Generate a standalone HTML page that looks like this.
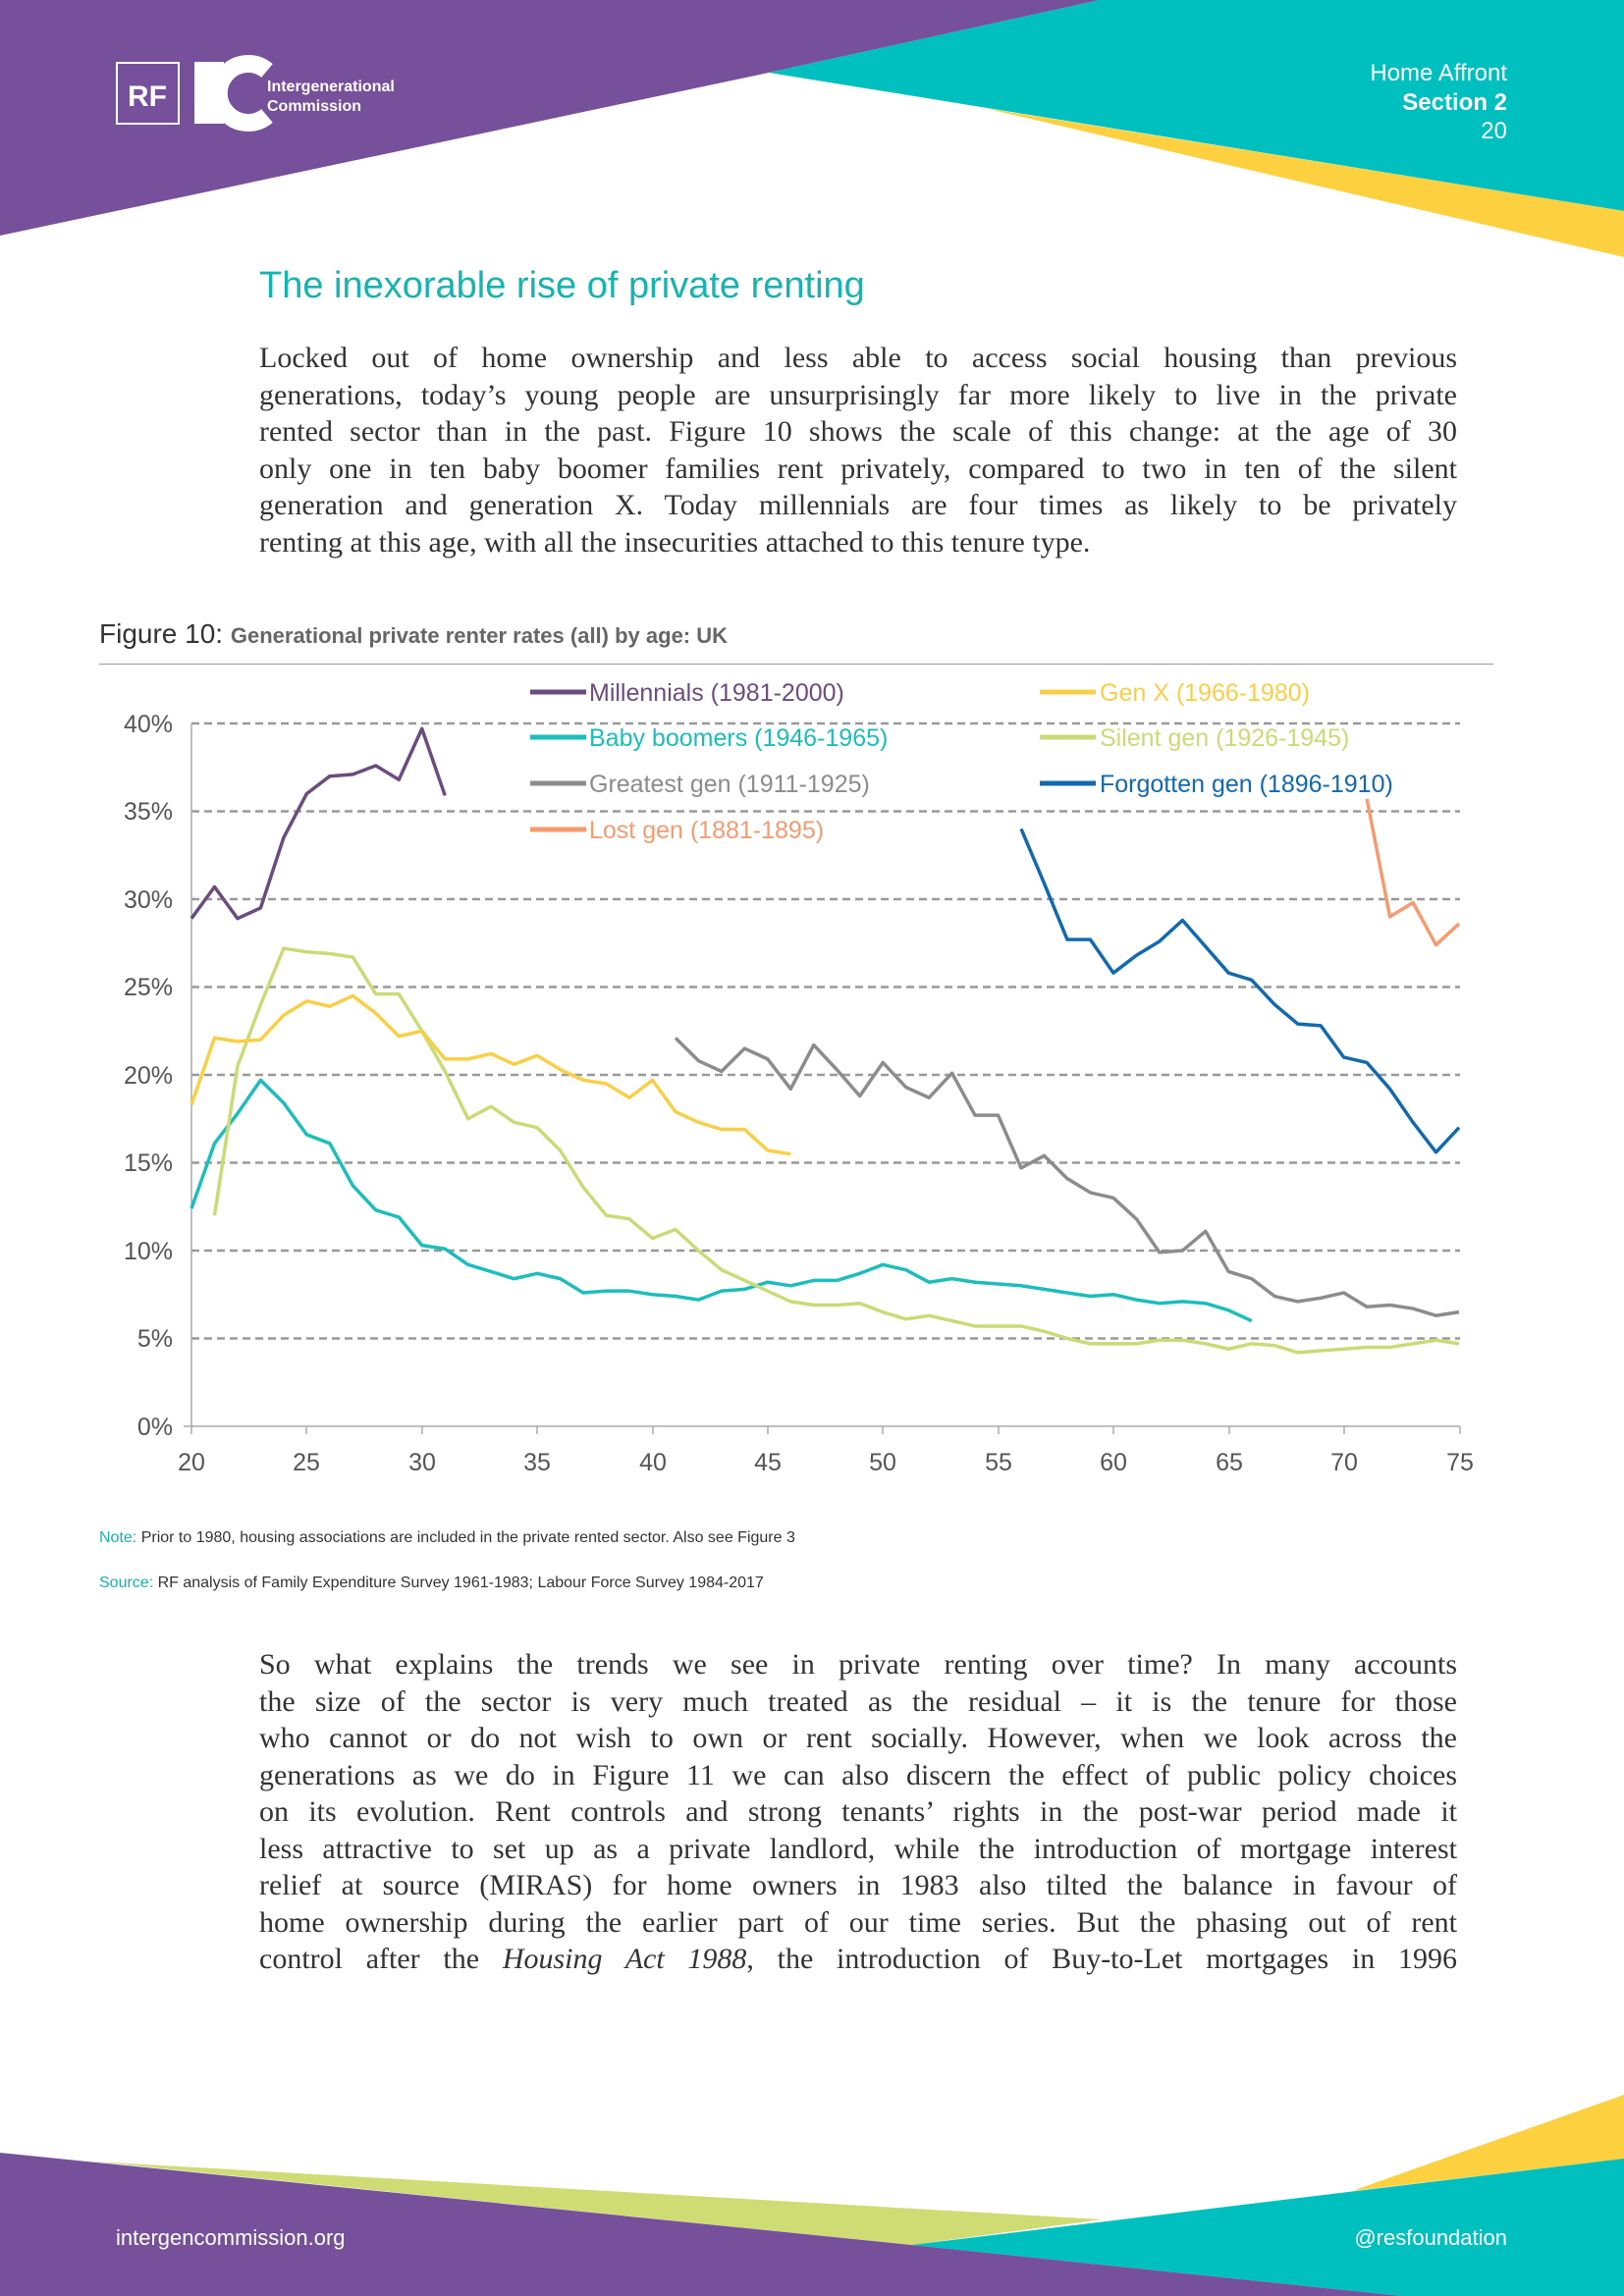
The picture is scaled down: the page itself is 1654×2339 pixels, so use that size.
<!DOCTYPE html>
<html><head><meta charset="utf-8"><style>
body{margin:0;width:1654px;height:2339px;position:relative;background:#fff;overflow:hidden;font-family:"Liberation Sans",sans-serif}
.abs{position:absolute}
.p{position:absolute;left:264px;width:1220px;font-family:"Liberation Serif",serif;font-size:30px;color:#333}
.p div{height:37.5px;line-height:37.5px;text-align:justify;text-align-last:justify;white-space:nowrap}
.p div.l{text-align-last:left}
</style></head><body>
<svg class="abs" style="left:0;top:0" width="1654" height="2339">
<polygon points="0,0 1120,0 783,74 0,240" fill="#77509b"/>
<polygon points="1120,0 1654,0 1654,215 783,74" fill="#00bfbf"/>
<polygon points="1002,110 1654,215 1654,262" fill="#fcd03f"/>
<polygon points="95,2202 1123,2261 928,2287" fill="#cfdc74"/>
<polygon points="1377,2232 1654,2134 1654,2199" fill="#fcd03f"/>
<polygon points="928,2287 1654,2199 1654,2339 1427,2339" fill="#00bfbf"/>
<polygon points="0,2193 928,2287 1427,2339 0,2339" fill="#77509b"/>
<rect x="119" y="64" width="63" height="62" fill="none" stroke="#fff" stroke-width="2"/>
<text x="150" y="108" fill="#fff" font-size="30" font-weight="bold" text-anchor="middle" font-family="Liberation Sans">RF</text>
<rect x="198" y="63" width="30" height="63" fill="#fff"/>
<path d="M272,72 A30,30 0 1 0 272,118" fill="none" stroke="#fff" stroke-width="18"/>
<text x="272" y="93" fill="#fff" font-size="16" font-weight="bold">Intergenerational</text>
<text x="272" y="113" fill="#fff" font-size="16" font-weight="bold">Commission</text>
<text x="1535" y="82" fill="#fff" font-size="24" text-anchor="end">Home Affront</text>
<text x="1535" y="112" fill="#fff" font-size="24" font-weight="bold" text-anchor="end">Section 2</text>
<text x="1535" y="141" fill="#fff" font-size="24" text-anchor="end">20</text>
<text x="118" y="2287" fill="#fff" font-size="22">intergencommission.org</text>
<text x="1535" y="2287" fill="#fff" font-size="22" text-anchor="end">@resfoundation</text>
</svg>
<div class="abs" style="left:264px;top:270px;font-size:38px;color:#17b3b0">The inexorable rise of private renting</div>
<div class="p" style="top:346px">
<div>Locked out of home ownership and less able to access social housing than previous</div>
<div>generations, today’s young people are unsurprisingly far more likely to live in the private</div>
<div>rented sector than in the past. Figure 10 shows the scale of this change: at the age of 30</div>
<div>only one in ten baby boomer families rent privately, compared to two in ten of the silent</div>
<div>generation and generation X. Today millennials are four times as likely to be privately</div>
<div class="l">renting at this age, with all the insecurities attached to this tenure type.</div>
</div>
<div class="abs" style="left:101px;top:630px;font-size:28px;color:#333">Figure 10: <span style="font-size:22px;font-weight:bold;color:#666">Generational private renter rates (all) by age: UK</span></div>
<div class="abs" style="left:101px;top:676px;width:1420px;height:1px;background:#999"></div>
<svg class="abs" style="left:0;top:0" width="1654" height="1600">
<g stroke="#999" stroke-width="2.5" stroke-dasharray="8,5">
<line x1="195" x2="1487" y1="737" y2="737"/><line x1="195" x2="1487" y1="826.5" y2="826.5"/><line x1="195" x2="1487" y1="916" y2="916"/><line x1="195" x2="1487" y1="1005.5" y2="1005.5"/><line x1="195" x2="1487" y1="1095" y2="1095"/><line x1="195" x2="1487" y1="1184.5" y2="1184.5"/><line x1="195" x2="1487" y1="1274" y2="1274"/><line x1="195" x2="1487" y1="1363.5" y2="1363.5"/>
</g>
<g stroke="#aaa" stroke-width="1.5"><line x1="195" x2="195" y1="737" y2="1453"/><line x1="187" x2="1487" y1="1453" y2="1453"/>
<line x1="195" x2="195" y1="1453" y2="1461"/><line x1="312" x2="312" y1="1453" y2="1461"/><line x1="430" x2="430" y1="1453" y2="1461"/><line x1="547" x2="547" y1="1453" y2="1461"/><line x1="665" x2="665" y1="1453" y2="1461"/><line x1="782" x2="782" y1="1453" y2="1461"/><line x1="899" x2="899" y1="1453" y2="1461"/><line x1="1017" x2="1017" y1="1453" y2="1461"/><line x1="1134" x2="1134" y1="1453" y2="1461"/><line x1="1252" x2="1252" y1="1453" y2="1461"/><line x1="1369" x2="1369" y1="1453" y2="1461"/><line x1="1487" x2="1487" y1="1453" y2="1461"/></g>
<g font-size="25" fill="#555" text-anchor="end">
<text x="176" y="746">40%</text><text x="176" y="835">35%</text><text x="176" y="925">30%</text><text x="176" y="1014">25%</text><text x="176" y="1104">20%</text><text x="176" y="1193">15%</text><text x="176" y="1283">10%</text><text x="176" y="1372">5%</text><text x="176" y="1462">0%</text></g>
<g font-size="25" fill="#555" text-anchor="middle">
<text x="195" y="1498">20</text><text x="312" y="1498">25</text><text x="430" y="1498">30</text><text x="547" y="1498">35</text><text x="665" y="1498">40</text><text x="782" y="1498">45</text><text x="899" y="1498">50</text><text x="1017" y="1498">55</text><text x="1134" y="1498">60</text><text x="1252" y="1498">65</text><text x="1369" y="1498">70</text><text x="1487" y="1498">75</text></g>
<g transform="translate(195,1453) scale(23.473,-17.9)" fill="none" stroke-width="3.5" stroke-linejoin="round">
<polyline vector-effect="non-scaling-stroke" stroke="#1cbdbd" points="0,12.4 1,16.1 2,17.8 3,19.7 4,18.4 5,16.6 6,16.1 7,13.7 8,12.3 9,11.9 10,10.3 11,10.1 12,9.2 13,8.8 14,8.4 15,8.7 16,8.4 17,7.6 18,7.7 19,7.7 20,7.5 21,7.4 22,7.2 23,7.7 24,7.8 25,8.2 26,8.0 27,8.3 28,8.3 29,8.7 30,9.2 31,8.9 32,8.2 33,8.4 34,8.2 35,8.1 36,8.0 37,7.8 38,7.6 39,7.4 40,7.5 41,7.2 42,7.0 43,7.1 44,7.0 45,6.6 46,6.0"/>
<polyline vector-effect="non-scaling-stroke" stroke="#c8dc76" points="1,12.0 2,20.5 3,24.0 4,27.2 5,27.0 6,26.9 7,26.7 8,24.6 9,24.6 10,22.5 11,20.2 12,17.5 13,18.2 14,17.3 15,17.0 16,15.7 17,13.6 18,12.0 19,11.8 20,10.7 21,11.2 22,10.0 23,8.9 24,8.3 25,7.7 26,7.1 27,6.9 28,6.9 29,7.0 30,6.5 31,6.1 32,6.3 33,6.0 34,5.7 35,5.7 36,5.7 37,5.4 38,5.0 39,4.7 40,4.7 41,4.7 42,4.9 43,4.9 44,4.7 45,4.4 46,4.7 47,4.6 48,4.2 49,4.3 50,4.4 51,4.5 52,4.5 53,4.7 54,4.9 55,4.7"/>
<polyline vector-effect="non-scaling-stroke" stroke="#f9cf46" points="0,18.3 1,22.1 2,21.9 3,22 4,23.4 5,24.2 6,23.9 7,24.5 8,23.5 9,22.2 10,22.5 11,20.9 12,20.9 13,21.2 14,20.6 15,21.1 16,20.3 17,19.7 18,19.5 19,18.7 20,19.7 21,17.9 22,17.3 23,16.9 24,16.9 25,15.7 26,15.5"/>
<polyline vector-effect="non-scaling-stroke" stroke="#6b4c80" points="0,28.9 1,30.7 2,28.9 3,29.5 4,33.5 5,36 6,37 7,37.1 8,37.6 9,36.8 10,39.7 11,35.9"/>
<polyline vector-effect="non-scaling-stroke" stroke="#8c8c8c" points="21,22.1 22,20.8 23,20.2 24,21.5 25,20.9 26,19.2 27,21.7 28,20.3 29,18.8 30,20.7 31,19.3 32,18.7 33,20.1 34,17.7 35,17.7 36,14.7 37,15.4 38,14.1 39,13.3 40,13.0 41,11.8 42,9.9 43,10.0 44,11.1 45,8.8 46,8.4 47,7.4 48,7.1 49,7.3 50,7.6 51,6.8 52,6.9 53,6.7 54,6.3 55,6.5"/>
<polyline vector-effect="non-scaling-stroke" stroke="#1169b0" points="36,34.0 37,30.9 38,27.7 39,27.7 40,25.8 41,26.8 42,27.6 43,28.8 44,27.3 45,25.8 46,25.4 47,24.0 48,22.9 49,22.8 50,21.0 51,20.7 52,19.2 53,17.3 54,15.6 55,17.0"/>
<polyline vector-effect="non-scaling-stroke" stroke="#f59b6f" points="51,35.7 52,29.0 53,29.8 54,27.4 55,28.6"/>
</g>
<g stroke-width="5">
<line x1="540" x2="597" y1="705" y2="705" stroke="#6b4c80"/><line x1="540" x2="597" y1="751" y2="751" stroke="#1cbdbd"/><line x1="540" x2="597" y1="798" y2="798" stroke="#8c8c8c"/><line x1="540" x2="597" y1="845" y2="845" stroke="#f59b6f"/>
<line x1="1059" x2="1116" y1="705" y2="705" stroke="#f9cf46"/><line x1="1059" x2="1116" y1="751" y2="751" stroke="#c8dc76"/><line x1="1059" x2="1116" y1="798" y2="798" stroke="#1169b0"/></g>
<g font-size="25">
<text x="600" y="714" fill="#6b4c80">Millennials (1981-2000)</text><text x="600" y="760" fill="#1cbdbd">Baby boomers (1946-1965)</text><text x="600" y="807" fill="#8c8c8c">Greatest gen (1911-1925)</text><text x="600" y="854" fill="#f59b6f">Lost gen (1881-1895)</text>
<text x="1120" y="714" fill="#f9cf46">Gen X (1966-1980)</text><text x="1120" y="760" fill="#c8dc76">Silent gen (1926-1945)</text><text x="1120" y="807" fill="#1169b0">Forgotten gen (1896-1910)</text></g>
</svg>
<div class="abs" style="left:101px;top:1558px;font-size:16px;color:#333"><span style="color:#17b3b0">Note:</span> Prior to 1980, housing associations are included in the private rented sector. Also see Figure 3</div>
<div class="abs" style="left:101px;top:1604px;font-size:16px;color:#333"><span style="color:#17b3b0">Source:</span> RF analysis of Family Expenditure Survey 1961-1983; Labour Force Survey 1984-2017</div>
<div class="p" style="top:1677px">
<div>So what explains the trends we see in private renting over time? In many accounts</div>
<div>the size of the sector is very much treated as the residual – it is the tenure for those</div>
<div>who cannot or do not wish to own or rent socially. However, when we look across the</div>
<div>generations as we do in Figure 11 we can also discern the effect of public policy choices</div>
<div>on its evolution. Rent controls and strong tenants’ rights in the post-war period made it</div>
<div>less attractive to set up as a private landlord, while the introduction of mortgage interest</div>
<div>relief at source (MIRAS) for home owners in 1983 also tilted the balance in favour of</div>
<div>home ownership during the earlier part of our time series. But the phasing out of rent</div>
<div>control after the <i>Housing Act 1988</i>, the introduction of Buy-to-Let mortgages in 1996</div>
</div>
</body></html>
